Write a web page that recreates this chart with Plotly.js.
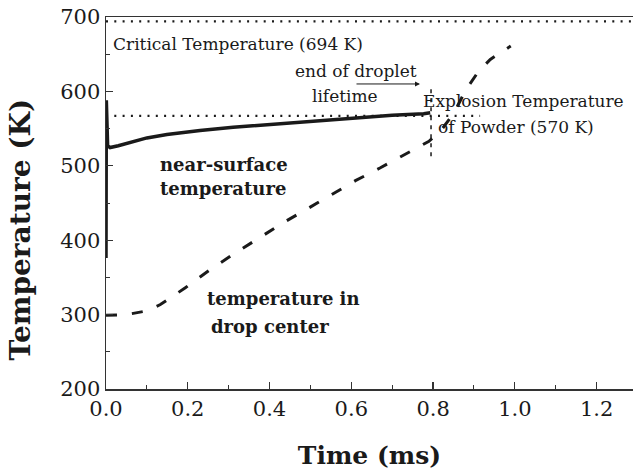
<!DOCTYPE html>
<html>
<head>
<meta charset="utf-8">
<script src="https://cdn.plot.ly/plotly-3.0.1.min.js"></script>
<style>html,body{margin:0;padding:0;background:#fff}#chart{width:633px;height:474px}</style>
</head>
<body>
<div id="chart"></div>
<script>
// Near-surface temperature (solid)
const surfTime = [0, 0.0008, 0.004, 0.01, 0.03, 0.067, 0.1, 0.149, 0.2, 0.23, 0.311, 0.394, 0.475, 0.55, 0.614, 0.7, 0.777, 0.793];
const surfTemp = [376, 588, 527, 524.5, 527, 533, 537.5, 542, 545.5, 547.3, 551.7, 555.3, 558.4, 561.8, 565, 567.8, 570, 571.4];
// Temperature in drop center (dashed)
const centerTime = [0, 0.05, 0.1, 0.133, 0.194, 0.255, 0.314, 0.377, 0.438, 0.495, 0.555, 0.61, 0.67, 0.73, 0.79, 0.82, 0.85, 0.88, 0.91, 0.94, 0.97, 0.99];
const centerTemp = [299, 300, 305, 313.5, 336, 360.5, 382, 404, 425, 443, 462, 480, 497, 515.5, 533, 548, 570, 602, 626, 643, 654, 661];
// Reference levels
const criticalTemp = 694;
const criticalSpan = [0, 1.29];
const explosionTemp = 567;
const explosionSpan = [0, 0.915];
const lifetimeEnd = 0.795;
const lifetimeSpan = [513, 609];
// Axis ticks
const xTicks = [0, 0.2, 0.4, 0.6, 0.8, 1.0, 1.2];
const xTickText = ['0.0', '0.2', '0.4', '0.6', '0.8', '1.0', '1.2'];
const yTicks = [200, 300, 400, 500, 600, 700];

const ink = '#1a1a1a';
const serif = 'DejaVu Serif';

const traces = [
  {x: criticalSpan, y: [criticalTemp, criticalTemp], mode: 'lines', line: {color: ink, width: 2.2, dash: '2px,6.3px'}, hoverinfo: 'skip'},
  {x: explosionSpan, y: [explosionTemp, explosionTemp], mode: 'lines', line: {color: ink, width: 2.2, dash: '2px,6.3px'}, hoverinfo: 'skip', cliponaxis: false},
  {x: [lifetimeEnd, lifetimeEnd], y: lifetimeSpan, mode: 'lines', line: {color: ink, width: 1.5, dash: '4px,5px'}, hoverinfo: 'skip'},
  {x: surfTime, y: surfTemp, mode: 'lines', line: {color: ink, width: 3.5}, name: 'near-surface temperature'},
  {x: centerTime, y: centerTemp, mode: 'lines', line: {color: ink, width: 3, dash: '11px,15px'}, name: 'temperature in drop center'}
];

function note(x, y, text, bold, anchor) {
  return {x: x, y: y, xref: 'x', yref: 'y', text: bold ? '<b>' + text + '</b>' : text,
    showarrow: false, xanchor: anchor || 'left', yanchor: 'middle',
    font: {family: serif, size: bold ? 18 : 17, color: ink}};
}

const layout = {
  width: 633, height: 474,
  margin: {l: 106, r: 0, t: 17, b: 85},
  paper_bgcolor: '#fff', plot_bgcolor: '#fff',
  showlegend: false,
  font: {family: serif, color: ink},
  xaxis: {
    range: [0, 1.289], tickvals: xTicks, ticktext: xTickText,
    ticks: 'inside', ticklen: 7, tickwidth: 1.3, tickcolor: '#333',
    showline: true, linecolor: '#333', linewidth: 1.5, mirror: true,
    showgrid: false, zeroline: false,
    minor: {dtick: 0.1, ticks: 'inside', ticklen: 4, tickwidth: 1, tickcolor: '#333'},
    tickfont: {family: serif, size: 21, color: ink},
    title: {text: 'Time (ms)', font: {family: serif, size: 25, weight: 'bold', color: ink}, standoff: 27}
  },
  yaxis: {
    range: [200, 700], tickvals: yTicks,
    ticks: 'inside', ticklen: 7, tickwidth: 1.3, tickcolor: '#333',
    showline: true, linecolor: '#333', linewidth: 1.5,
    showgrid: false, zeroline: false,
    minor: {dtick: 50, ticks: 'inside', ticklen: 4, tickwidth: 1, tickcolor: '#333'},
    tickfont: {family: serif, size: 21, color: ink}
  },
  annotations: [
    {xref: 'paper', yref: 'paper', x: -0.163, y: 0.4288, text: '<b>Temperature (K)</b>', textangle: -90,
     showarrow: false, xanchor: 'center', yanchor: 'middle', font: {family: serif, size: 28, color: ink}},
    note(0.011, 664, 'Critical Temperature (694 K)', false),
    note(0.612, 627, 'end of droplet', false, 'center'),
    note(0.585, 593.3, 'lifetime', false, 'center'),
    note(0.771, 586.6, 'Explosion Temperature', false),
    note(0.807, 552.6, 'of Powder (570 K)', false),
    note(0.126, 501.6, 'near-surface', true),
    note(0.126, 469.3, 'temperature', true),
    note(0.241, 321.6, 'temperature in', true),
    note(0.251, 283.5, 'drop center', true),
    {x: 0.768, y: 610, ax: 0.609, ay: 610, xref: 'x', yref: 'y', axref: 'x', ayref: 'y', text: '',
     showarrow: true, arrowhead: 2, arrowsize: 1, arrowwidth: 1, arrowcolor: ink}
  ]
};

Plotly.newPlot('chart', traces, layout, {displayModeBar: false, staticPlot: true});
</script>
</body>
</html>
